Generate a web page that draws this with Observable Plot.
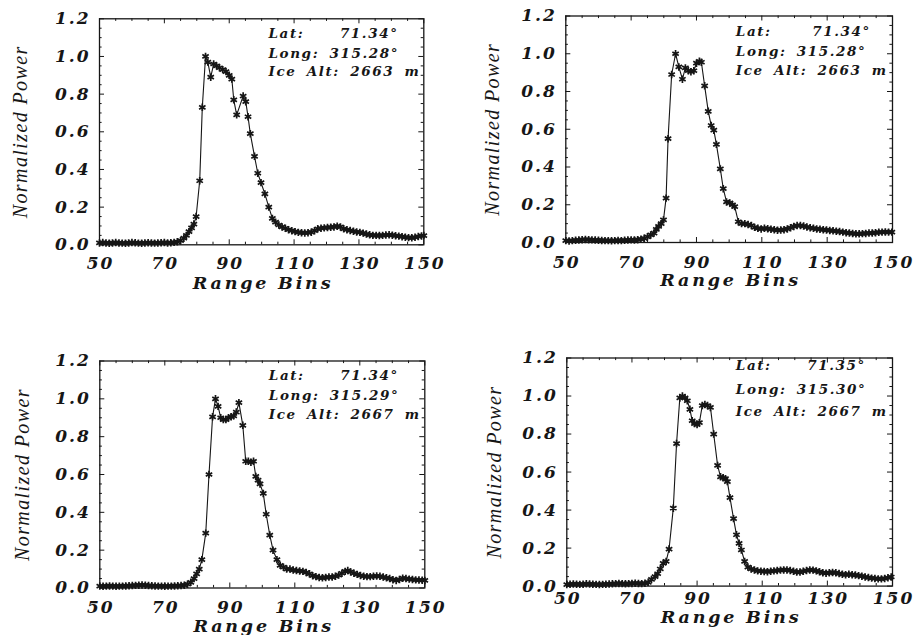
<!DOCTYPE html>
<html><head><meta charset="utf-8">
<script src="https://cdn.jsdelivr.net/npm/d3@7"></script>
<script src="https://cdn.jsdelivr.net/npm/@observablehq/plot@0.6"></script>
<style>
body{margin:0;background:#fff;}
#wrap{position:relative;width:914px;height:635px;overflow:hidden;background:#fff;}
#wrap svg{position:absolute;overflow:visible;}
g[font-size="17"] text{letter-spacing:2px;}
g[font-size="17.5"] text{letter-spacing:2.8px;}
g[font-size="20"] text{letter-spacing:1.4px;}
g[font-size="13.5"] text{letter-spacing:1.6px;word-spacing:4px;}
</style></head><body><div id="wrap"></div>
<script>
// ---------- data ----------
const p1Bins = [50,51,52,53,54,55,56,57,58,59,60,61,62,63,64,65,66,67,68,69,70,71,72,73,74,75,
  76,76.8,77.6,78.4,79.1,79.8,80.9,81.7,82.7,83.4,84.3,85.2,86.1,87.0,88.0,89.0,90.0,90.8,91.4,92.3,
  94.3,95.1,95.8,96.5,97.8,98.8,99.8,101.0,102.2,103.3,104.3,105.3,106.3,107.3,108.3,109.3,110.3,
  111.3,112.3,113.3,114.3,115.3,116.3,117.3,118.3,119.3,120.3,121.3,122.3,123.3,124.3,125.3,126.3,
  127.3,128.3,129.3,130.3,131.3,132.3,133.3,134.3,135.3,136.3,137.3,138.3,139.3,140.3,141.3,142.3,
  143.3,144.3,145.3,146.3,147.3,148.3,149.3,150];
const p1Power = [0.010,0.012,0.010,0.008,0.010,0.012,0.010,0.009,0.008,0.010,0.012,0.011,0.009,0.008,
  0.010,0.011,0.010,0.009,0.010,0.011,0.012,0.010,0.011,0.013,0.016,0.022,
  0.035,0.05,0.07,0.09,0.11,0.15,0.34,0.73,1.0,0.97,0.89,0.96,0.95,0.94,0.93,0.92,0.90,0.88,0.77,0.69,
  0.79,0.76,0.68,0.59,0.47,0.38,0.33,0.27,0.20,0.14,0.12,0.105,0.095,0.088,0.08,0.075,0.07,
  0.066,0.064,0.063,0.064,0.067,0.075,0.085,0.088,0.09,0.092,0.093,0.095,0.099,0.095,0.085,0.08,
  0.076,0.072,0.068,0.066,0.062,0.057,0.053,0.05,0.05,0.049,0.05,0.052,0.053,0.051,0.048,0.046,
  0.043,0.04,0.038,0.037,0.04,0.044,0.047,0.049];

const p2Bins = [50,51,52,53,54,55,56,57,58,59,60,61,62,63,64,65,66,67,68,69,70,71,72,73,74,75,76,
  77,77.7,78.4,79.2,79.9,80.7,81.3,82.4,83.6,84.6,85.7,86.6,87.5,88.3,89.2,90.0,90.9,91.5,92.5,93.6,
  94.5,95.3,96.1,97.3,98.2,99.2,100.2,101.0,101.7,102.8,103.8,104.8,105.8,106.8,107.8,108.8,109.8,
  110.8,111.8,112.8,113.8,114.8,115.8,116.8,117.8,118.8,119.8,120.8,121.8,122.8,123.8,124.8,125.8,
  126.8,127.8,128.8,129.8,130.8,131.8,132.8,133.8,134.8,135.8,136.8,137.8,138.8,139.8,140.8,141.8,
  142.8,143.8,144.8,145.8,146.8,147.8,148.8,149.8];
const p2Power = [0.010,0.008,0.010,0.012,0.013,0.015,0.016,0.015,0.014,0.013,0.012,0.011,0.010,0.010,
  0.009,0.010,0.011,0.010,0.012,0.013,0.014,0.013,0.015,0.018,0.022,0.03,0.04,
  0.05,0.07,0.085,0.10,0.12,0.235,0.55,0.89,1.0,0.93,0.865,0.925,0.91,0.905,0.91,0.95,0.96,0.955,0.83,0.695,
  0.62,0.595,0.52,0.39,0.285,0.215,0.21,0.2,0.19,0.11,0.10,0.10,0.095,0.09,0.08,0.075,0.072,
  0.075,0.073,0.07,0.068,0.065,0.066,0.068,0.072,0.078,0.085,0.09,0.09,0.087,0.082,0.078,0.075,
  0.072,0.07,0.068,0.066,0.064,0.062,0.06,0.058,0.055,0.052,0.05,0.048,0.046,0.046,0.047,0.048,
  0.05,0.05,0.052,0.054,0.055,0.056,0.055,0.055];

const p3Bins = [50,51,52,53,54,55,56,57,58,59,60,61,62,63,64,65,66,67,68,69,70,71,72,73,74,75,76,77,78,79,
  79.8,80.6,81.4,82.6,83.6,84.7,85.6,86.4,87.2,88.0,88.8,89.6,90.4,91.2,92.0,92.8,94.0,94.9,95.7,96.5,
  97.3,98.0,98.7,99.3,100.3,101.2,102.3,103.3,104.5,105.5,106.5,107.5,108.5,109.5,110.5,111.5,112.5,
  113.5,114.5,115.5,116.5,117.5,118.5,119.5,120.5,121.5,122.5,123.5,124.5,125.5,126.3,127.2,128.2,
  129.2,130.2,131.2,132.2,133.2,134.2,135.2,136.2,137.2,138.2,139.2,140.2,141.2,142.2,143.2,144.2,
  145.2,146.2,147.2,148.2,149.2,150];
const p3Power = [0.010,0.009,0.010,0.011,0.010,0.009,0.010,0.010,0.011,0.012,0.013,0.014,0.015,0.016,
  0.015,0.013,0.012,0.011,0.010,0.010,0.009,0.010,0.010,0.011,0.012,0.013,0.015,0.02,0.03,0.05,
  0.075,0.10,0.15,0.29,0.60,0.905,1.0,0.96,0.90,0.89,0.89,0.90,0.905,0.91,0.93,0.98,0.86,0.67,0.67,0.665,
  0.67,0.59,0.57,0.55,0.50,0.39,0.28,0.20,0.15,0.12,0.11,0.10,0.10,0.095,0.092,0.09,0.088,
  0.082,0.075,0.065,0.06,0.055,0.054,0.056,0.058,0.058,0.062,0.068,0.078,0.088,0.092,0.085,0.078,
  0.072,0.066,0.062,0.06,0.06,0.062,0.063,0.062,0.058,0.054,0.05,0.044,0.04,0.045,0.052,0.05,
  0.047,0.045,0.043,0.042,0.041,0.04];

const p4Bins = [50,51,52,53,54,55,56,57,58,59,60,61,62,63,64,65,66,67,68,69,70,71,72,73,74,75,76,
  77.1,77.9,78.7,79.6,80.5,81.4,82.7,83.7,84.7,85.5,86.3,87.0,87.8,88.5,89.2,90.0,90.7,91.6,92.4,93.2,
  94.1,95.1,96.3,97.2,98.0,98.7,99.3,100.1,101.2,102.1,102.9,103.6,104.6,105.6,106.6,107.6,108.6,
  109.6,110.6,111.6,112.6,113.6,114.6,115.6,116.6,117.6,118.6,119.6,120.6,121.6,122.6,123.6,124.6,
  125.6,126.6,127.6,128.6,129.6,130.6,131.6,132.6,133.6,134.6,135.6,136.6,137.6,138.6,139.6,140.6,
  141.6,142.6,143.6,144.6,145.6,146.6,147.6,148.6,149.6];
const p4Power = [0.008,0.010,0.011,0.010,0.009,0.010,0.012,0.011,0.010,0.009,0.008,0.009,0.010,0.011,
  0.012,0.013,0.014,0.013,0.012,0.013,0.014,0.015,0.014,0.013,0.015,0.02,0.035,
  0.05,0.065,0.09,0.12,0.13,0.195,0.41,0.75,0.99,1.0,0.99,0.975,0.93,0.87,0.855,0.85,0.86,0.95,0.955,0.95,
  0.94,0.80,0.635,0.575,0.57,0.565,0.55,0.465,0.355,0.27,0.225,0.19,0.13,0.10,0.09,0.085,0.08,
  0.078,0.077,0.076,0.078,0.08,0.082,0.084,0.085,0.085,0.082,0.078,0.074,0.074,0.078,0.082,0.085,
  0.084,0.08,0.075,0.07,0.068,0.07,0.072,0.07,0.066,0.062,0.06,0.062,0.06,0.058,0.055,0.052,
  0.048,0.045,0.042,0.04,0.038,0.038,0.04,0.044,0.048];

const latLabels  = ["71.34°","71.34°","71.34°","71.35°"];
const longLabels = ["315.28°","315.28°","315.29°","315.30°"];
const altLabels  = ["2663 m","2663 m","2667 m","2667 m"];

const xMajorTicks = [50,70,90,110,130,150];
const xMinorTicks = [55,60,65,75,80,85,95,100,105,115,120,125,135,140,145];
const yMajorTicks = [0,0.2,0.4,0.6,0.8,1.0,1.2];
const yMinorTicks = [0.05,0.1,0.15,0.25,0.3,0.35,0.45,0.5,0.55,0.65,0.7,0.75,0.85,0.9,0.95,1.05,1.1,1.15];

const xLabel = "Range Bins";
const yLabel = "Normalized Power";

// ---------- layout (pixels) ----------
const panels = [
  {bins:p1Bins, power:p1Power, left:0,   top:0,   h:300, ml:99,    mr:33.7, mt:18.3, mb:55.7,
   tickDy:19, labDy:38.7, yLabDx:-79, annDx:169, annEnd:299, annDy:[15,35,53.2]},
  {bins:p2Bins, power:p2Power, left:457, top:0,   h:300, ml:108.3, mr:22,   mt:15.5, mb:58,
   tickDy:19.7, labDy:38, yLabDx:-73.3, annDx:170, annEnd:305, annDy:[16,36,54.3]},
  {bins:p3Bins, power:p3Power, left:0,   top:335, h:300, ml:99.3,  mr:32.7, mt:25.5, mb:47.5,
   tickDy:19.5, labDy:38.3, yLabDx:-77.6, annDx:169, annEnd:299, annDy:[14.5,34.5,53.5]},
  {bins:p4Bins, power:p4Power, left:457, top:335, h:300, ml:109.3, mr:22,   mt:22.5, mb:49.4,
   tickDy:12.7, labDy:31.4, yLabDx:-72.6, annDx:169, annEnd:299, annDy:[7.8,31.5,53.5]}
];

const ink = "#161616";
const tickFont = {fontFamily:"DejaVu Serif", fontStyle:"italic", fontWeight:"bold", fontSize:17, fill:ink};
const annFont  = {fontFamily:"DejaVu Serif", fontStyle:"italic", fontWeight:"bold", fontSize:13.5, fill:ink};

const wrap = document.getElementById("wrap");
panels.forEach((p, k) => {
  const rows = p.bins.map((b, i) => ({bin:b, power:p.power[i]}));
  const W = 457;
  const iw = W - p.ml - p.mr, ih = p.h - p.mt - p.mb;
  const major = 5, minor = 2.6;
  const svg = Plot.plot({
    width: W, height: p.h,
    marginLeft: p.ml, marginRight: p.mr, marginTop: p.mt, marginBottom: p.mb,
    style: {background:"transparent", overflow:"visible"},
    x: {domain:[50,150], axis:null},
    y: {domain:[0,1.2], axis:null},
    marks: [
      // inward tick marks on all four sides
      Plot.ruleX(xMajorTicks, {x:d=>d, insetTop: ih - major, stroke:ink}),
      Plot.ruleX(xMinorTicks, {x:d=>d, insetTop: ih - minor, stroke:ink}),
      Plot.ruleX(xMajorTicks, {x:d=>d, insetBottom: ih - major, stroke:ink}),
      Plot.ruleX(xMinorTicks, {x:d=>d, insetBottom: ih - minor, stroke:ink}),
      Plot.ruleY(yMajorTicks, {y:d=>d, insetRight: iw - major, stroke:ink}),
      Plot.ruleY(yMinorTicks, {y:d=>d, insetRight: iw - minor, stroke:ink}),
      Plot.ruleY(yMajorTicks, {y:d=>d, insetLeft: iw - major, stroke:ink}),
      Plot.ruleY(yMinorTicks, {y:d=>d, insetLeft: iw - minor, stroke:ink}),
      Plot.frame({stroke:ink, strokeWidth:1.3}),
      // data
      Plot.line(rows, {x:"bin", y:"power", stroke:ink, strokeWidth:1.1}),
      Plot.dot(rows, {x:"bin", y:"power", symbol:"asterisk", r:3.5, stroke:ink, strokeWidth:1.7}),
      // tick labels
      Plot.text(xMajorTicks, {x:d=>d, frameAnchor:"bottom", dy:p.tickDy, dx:1, lineAnchor:"middle",
        text:d=>String(d), ...tickFont}),
      Plot.text(yMajorTicks, {y:d=>d, frameAnchor:"left", dx:-9, textAnchor:"end", lineAnchor:"middle",
        text:d=>d.toFixed(1), ...tickFont}),
      // axis titles
      Plot.text([xLabel], {frameAnchor:"bottom", dy:p.labDy, dx:1.4, textAnchor:"middle", lineAnchor:"middle",
        text:d=>d, fontFamily:"DejaVu Serif", fontStyle:"italic", fontWeight:"bold", fontSize:17.5, fill:ink}),
      Plot.text([yLabel], {frameAnchor:"left", dx:p.yLabDx, rotate:-90, textAnchor:"middle", lineAnchor:"middle",
        text:d=>d, fontFamily:"Liberation Serif", fontStyle:"italic", fontSize:20, fill:ink}),
      // annotations
      Plot.text(["Lat:"], {frameAnchor:"top-left", dx:p.annDx, dy:p.annDy[0], textAnchor:"start",
        lineAnchor:"middle", text:d=>d, ...annFont}),
      Plot.text([latLabels[k]], {frameAnchor:"top-left", dx:p.annEnd, dy:p.annDy[0], textAnchor:"end",
        lineAnchor:"middle", text:d=>d, ...annFont}),
      Plot.text([longLabels[k]], {frameAnchor:"top-left", dx:p.annDx, dy:p.annDy[1], textAnchor:"start",
        lineAnchor:"middle", text:d=>"Long: " + d, ...annFont}),
      Plot.text([altLabels[k]], {frameAnchor:"top-left", dx:p.annDx, dy:p.annDy[2], textAnchor:"start",
        lineAnchor:"middle", text:d=>"Ice Alt: " + d, ...annFont})
    ]
  });
  svg.style.left = p.left + "px";
  svg.style.top = p.top + "px";
  wrap.appendChild(svg);
});
</script>
</body></html>
